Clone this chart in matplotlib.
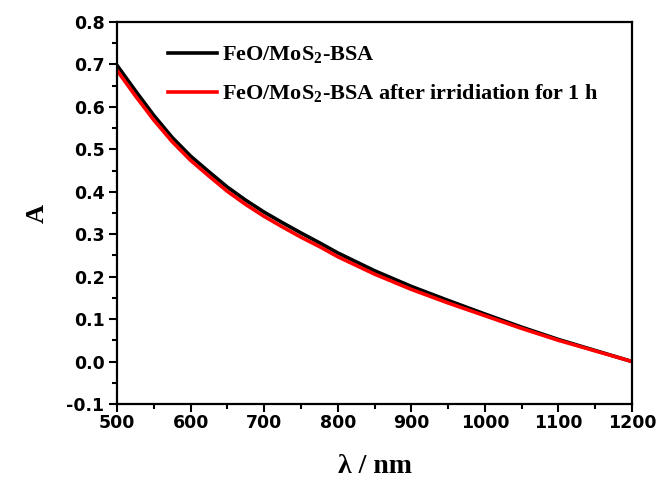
import matplotlib
matplotlib.use('Agg')
import matplotlib.pyplot as plt
from matplotlib.ticker import MultipleLocator

# wavelength (nm) and absorbance
wavelength = [500, 525, 550, 575, 600, 625, 650, 675, 700, 725, 750, 775, 800,
              850, 900, 950, 1000, 1050, 1100, 1150, 1200]
abs_before = [0.698, 0.638, 0.580, 0.528, 0.484, 0.447, 0.411, 0.380, 0.352,
              0.327, 0.303, 0.280, 0.256, 0.214, 0.177, 0.144, 0.112, 0.081,
              0.052, 0.026, 0.000]
abs_after = [0.686, 0.626, 0.569, 0.518, 0.474, 0.437, 0.401, 0.370, 0.342,
             0.317, 0.293, 0.271, 0.247, 0.206, 0.170, 0.138, 0.108, 0.078,
             0.050, 0.025, 0.000]

label_before = r'FeO/MoS$_{\mathrm{2}}$-BSA'
label_after = r'FeO/MoS$_{\mathrm{2}}$-BSA after irridiation for 1 h'

plt.rcParams['mathtext.fontset'] = 'custom'
plt.rcParams['mathtext.rm'] = 'Liberation Serif:bold'
plt.rcParams['mathtext.bf'] = 'Liberation Serif:bold'

fig = plt.figure(figsize=(6.58, 4.83), dpi=100)
ax = fig.add_axes([0.1778, 0.1636, 0.7827, 0.7909])

ax.plot(wavelength, abs_before, color='black', linewidth=2.6, label=label_before)
ax.plot(wavelength, abs_after, color='red', linewidth=2.6, label=label_after)

ax.set_xlim(500, 1200)
ax.set_ylim(-0.1, 0.8)
ax.xaxis.set_major_locator(MultipleLocator(100))
ax.xaxis.set_minor_locator(MultipleLocator(50))
ax.yaxis.set_major_locator(MultipleLocator(0.1))
ax.yaxis.set_minor_locator(MultipleLocator(0.05))
ax.yaxis.set_major_formatter(plt.FuncFormatter(lambda v, p: f'{v:.1f}'))

for s in ax.spines.values():
    s.set_linewidth(1.6)
ax.tick_params(which='both', direction='out', top=False, right=False, width=1.5)
ax.tick_params(which='major', length=6)
ax.tick_params(which='minor', length=3.5)
ax.tick_params(axis='y', pad=3)
ax.tick_params(axis='x', pad=1.5)
for lbl in ax.get_xticklabels() + ax.get_yticklabels():
    lbl.set_fontfamily('DejaVu Sans')
    lbl.set_fontweight('bold')
    lbl.set_fontsize(12.5)

ax.set_xlabel('λ / nm', fontfamily='Liberation Serif', fontweight='bold', fontsize=20)
ax.set_ylabel('A', fontfamily='Liberation Serif', fontweight='bold', fontsize=19)
ax.xaxis.set_label_coords(0.5, -0.13)
ax.yaxis.set_label_coords(-0.133, 0.5)

leg = ax.legend(loc='upper left', bbox_to_anchor=(0.099, 0.94), frameon=False,
                borderpad=0, borderaxespad=0, handlelength=2.2, handletextpad=0.25,
                labelspacing=0.72,
                prop={'family': 'Liberation Serif', 'weight': 'bold', 'size': 16})

fig.savefig('out.png', dpi=100)
